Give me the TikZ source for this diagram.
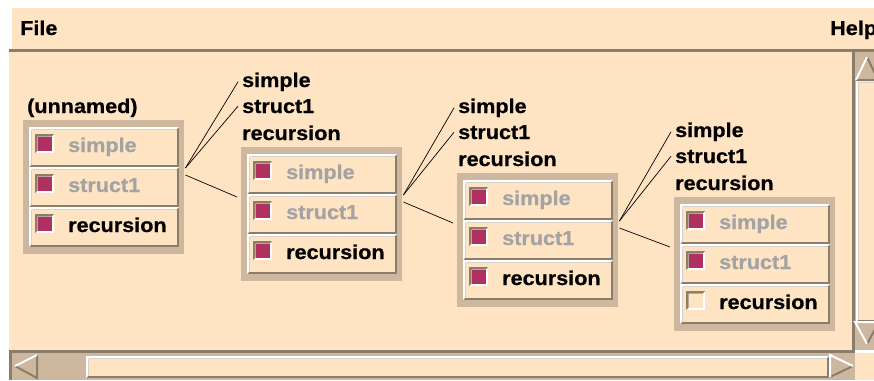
\documentclass[tikz,border=0pt]{standalone}
\usepackage{fontspec}
\setmainfont{Liberation Sans}[FakeStretch=1.08, BoldFeatures={FakeBold=0.6}]
\definecolor{bisque}{RGB}{255,228,196}
\definecolor{bisquethree}{RGB}{205,183,158}
\definecolor{bisquefour}{RGB}{139,125,107}
\definecolor{maroonx}{RGB}{176,48,96}
\definecolor{disabledgray}{RGB}{163,163,163}
\tikzset{
  txt/.style={inner sep=0pt, anchor=base west, font=\fontsize{20}{24}\selectfont\bfseries},
  framebox/.style={fill=bisquethree, inner sep=0pt, minimum width=161pt, minimum height=134pt, anchor=north west},
  conn/.style={draw=black, line width=0.7pt},
}
% #1 x1, #2 y1, #3 x2, #4 y2, #5 top-left colour, #6 bottom-right colour, #7 fill, #8 thickness
\newcommand\bevel[8]{%
  \fill[#6] (#1,#2) rectangle (#3,#4);
  \fill[#5] (#1,#2) -- (#3,#2) -- ({#3-#8},{#2+#8}) -- ({#1+#8},{#2+#8}) -- ({#1+#8},{#4-#8}) -- (#1,#4) -- cycle;
  \fill[#7] ({#1+#8},{#2+#8}) rectangle ({#3-#8},{#4-#8});
}
% #1 index, #2 fx, #3 fy, #4 fill of third checkbox
\newcommand\drawcolumn[4]{%
  \node[framebox] (f#1) at (#2,#3) {};
  \foreach \k/\itemtxt/\itemcol/\chkcol in {0/simple/disabledgray/maroonx, 1/struct1/disabledgray/maroonx, 2/recursion/black/#4} {
    \pgfmathsetmacro\btop{#3+7+40*\k}
    \bevel{#2+6}{\btop}{#2+156}{\btop+40}{white}{bisquefour}{bisque}{2.5}
    \bevel{#2+12}{\btop+7}{#2+31}{\btop+26}{bisquefour}{white}{\chkcol}{2.5}
    \node[txt, text=\itemcol] (b#1-\k) at ({#2+45},{\btop+25}) {\itemtxt};
  }
}
\newcommand\drawlabels[3]{%
  \node[txt] (s#1) at ({#2+1},{#3-60}) {simple};
  \node[txt] (t#1) at ({#2+1},{#3-34}) {struct1};
  \node[txt] (r#1) at ({#2+1},{#3-7}) {recursion};
}
\begin{document}
\begin{tikzpicture}[x=1pt,y=-1pt]
\useasboundingbox (0,0) rectangle (874,380);
\clip (0,0) rectangle (874,380);
\fill[white] (0,0) rectangle (874,380);
% menubar
\fill[bisque] (12,8) rectangle (874,49);
\fill[bisquefour] (9,48.5) rectangle (874,52);
\node[txt] (file) at (20,35) {File};
\node[txt] (help) at (830,35) {Help};
% main panel
\fill[bisque] (9,52) rectangle (852,350);
\fill[bisquefour] (851.5,52) rectangle (855,353);
\fill[bisquefour] (9,349.5) rectangle (855,353);
% vertical scrollbar
\fill[bisquethree] (855,52) rectangle (874,350);
\bevel{856}{80}{880}{322}{white}{bisquefour}{bisque}{2.5}
\fill[bisquethree] (856,80) -- (867,57) -- (878,80) -- cycle;
\draw[bisquefour, line width=2pt] (867,57) -- (878,80) -- (856,80);
\draw[white, line width=2pt] (856,80) -- (867,57);
\fill[bisquethree] (855,322) -- (879,322) -- (867,344) -- cycle;
\draw[bisquefour, line width=2pt] (879,322) -- (867,344);
\draw[white, line width=2pt] (867,344) -- (855,322) -- (879,322);
% horizontal scrollbar
\fill[bisquethree] (9,353) rectangle (855,380);
\fill[bisquefour] (9,353) rectangle (12,380);
\bevel{86}{356}{829}{378}{white}{bisquefour}{bisque}{2.5}
\fill[bisquethree] (15,366) -- (37,355) -- (37,378) -- cycle;
\draw[bisquefour, line width=2pt] (37,355) -- (37,378) -- (15,366);
\draw[white, line width=2pt] (15,366) -- (37,355);
\fill[bisquethree] (830,355) -- (853,366) -- (830,377) -- cycle;
\draw[bisquefour, line width=2pt] (853,366) -- (830,377);
\draw[white, line width=2pt] (830,377) -- (830,355) -- (853,366);
% corner
\fill[bisque] (855,353) rectangle (874,380);
% columns
\drawcolumn{1}{23}{120}{maroonx}
\drawcolumn{2}{241}{147}{maroonx}
\drawcolumn{3}{457}{173}{maroonx}
\drawcolumn{4}{674}{197}{bisque}
% labels
\node[txt] (unnamed) at (27,113) {(unnamed)};
\drawlabels{2}{241}{147}
\drawlabels{3}{457}{173}
\drawlabels{4}{674}{197}
% connectors
\foreach \i/\j in {1/2, 2/3, 3/4} {
  \coordinate (oa\i) at ([xshift=1pt, yshift=-48pt]f\i.north east);
  \coordinate (ob\i) at ([xshift=1pt, yshift=-55pt]f\i.north east);
  \draw[conn] (oa\i) -- ([xshift=-4pt]s\j.west);
  \draw[conn] (oa\i) -- ([xshift=-4pt]t\j.west);
  \draw[conn] (ob\i) -- ([xshift=-4pt, yshift=-50pt]f\j.north west);
}
\end{tikzpicture}
\end{document}
